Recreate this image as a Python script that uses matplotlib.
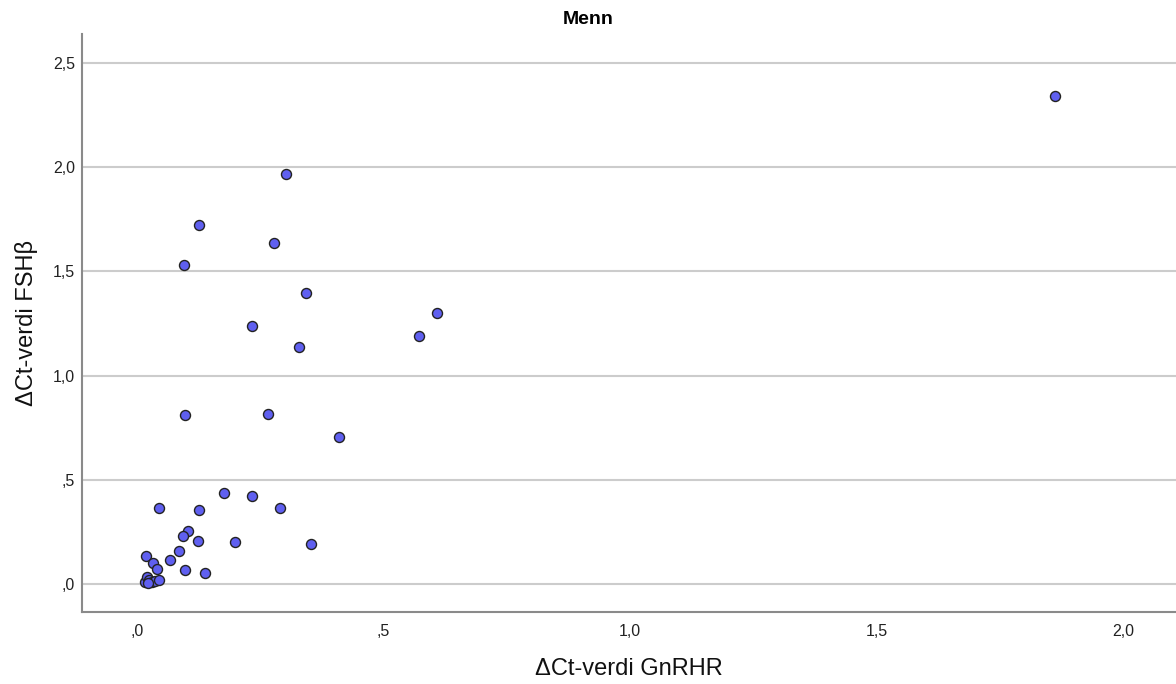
import matplotlib
matplotlib.use("Agg")
import matplotlib.pyplot as plt
from matplotlib.ticker import FuncFormatter

plt.rcParams['font.family'] = ['Liberation Sans', 'DejaVu Sans']

# ΔCt-verdier, menn
gnrhr = [1.862, 0.302, 0.126, 0.278, 0.095, 0.343, 0.609, 0.572, 0.233, 0.329,
         0.097, 0.266, 0.410, 0.176, 0.233, 0.045, 0.126, 0.290, 0.103, 0.094,
         0.124, 0.199, 0.352, 0.085, 0.066, 0.098, 0.137, 0.018, 0.033, 0.040,
         0.017, 0.020, 0.025, 0.030, 0.036, 0.045, 0.022]
fshb = [2.342, 1.967, 1.723, 1.636, 1.531, 1.396, 1.300, 1.190, 1.238, 1.137,
        0.811, 0.816, 0.705, 0.437, 0.422, 0.365, 0.355, 0.365, 0.254, 0.230,
        0.206, 0.202, 0.192, 0.158, 0.115, 0.067, 0.051, 0.133, 0.099, 0.073,
        0.008, 0.035, 0.020, 0.012, 0.015, 0.018, 0.004]

x_ticks = [0.0, 0.5, 1.0, 1.5, 2.0]
y_ticks = [0.0, 0.5, 1.0, 1.5, 2.0, 2.5]


def spss_fmt(v, pos):
    # ",5" i stedet for "0,5"
    s = f"{v:.1f}".replace(".", ",")
    if s.startswith("0,"):
        s = s[1:]
    return s


fig = plt.figure(figsize=(11.76, 6.84), dpi=100)
ax = fig.add_axes([82 / 1176, 72 / 684, 1 - 82 / 1176, 578 / 684])

ax.scatter(gnrhr, fshb, s=52, facecolor='#5f5ff0', edgecolor='#222222',
           linewidth=1.0, zorder=3)

ax.set_xlim(-0.1116, 2.107)
ax.set_ylim(-0.134, 2.639)
ax.set_xticks(x_ticks)
ax.set_yticks(y_ticks)
ax.xaxis.set_major_formatter(FuncFormatter(spss_fmt))
ax.yaxis.set_major_formatter(FuncFormatter(spss_fmt))
ax.tick_params(length=0, labelsize=11.5, colors='#222222')
ax.tick_params(axis='y', pad=5)
ax.tick_params(axis='x', pad=8.5)

ax.grid(axis='y', color='#cccccc', linewidth=1.5, zorder=0)
for side in ['top', 'right']:
    ax.spines[side].set_visible(False)
for side in ['left', 'bottom']:
    ax.spines[side].set_color('#8a8a8a')
    ax.spines[side].set_linewidth(1.5)

ax.set_xlabel('\u0394Ct-verdi GnRHR', fontsize=17, labelpad=14, color='#111111')
ax.set_ylabel('\u0394Ct-verdi FSH\u03b2', fontsize=17, labelpad=11, color='#111111')
fig.text(0.5, 1 - 20 / 684, 'Menn', ha='center', va='center',
         fontsize=14, fontweight='bold')

fig.savefig('out.png', dpi=100)
